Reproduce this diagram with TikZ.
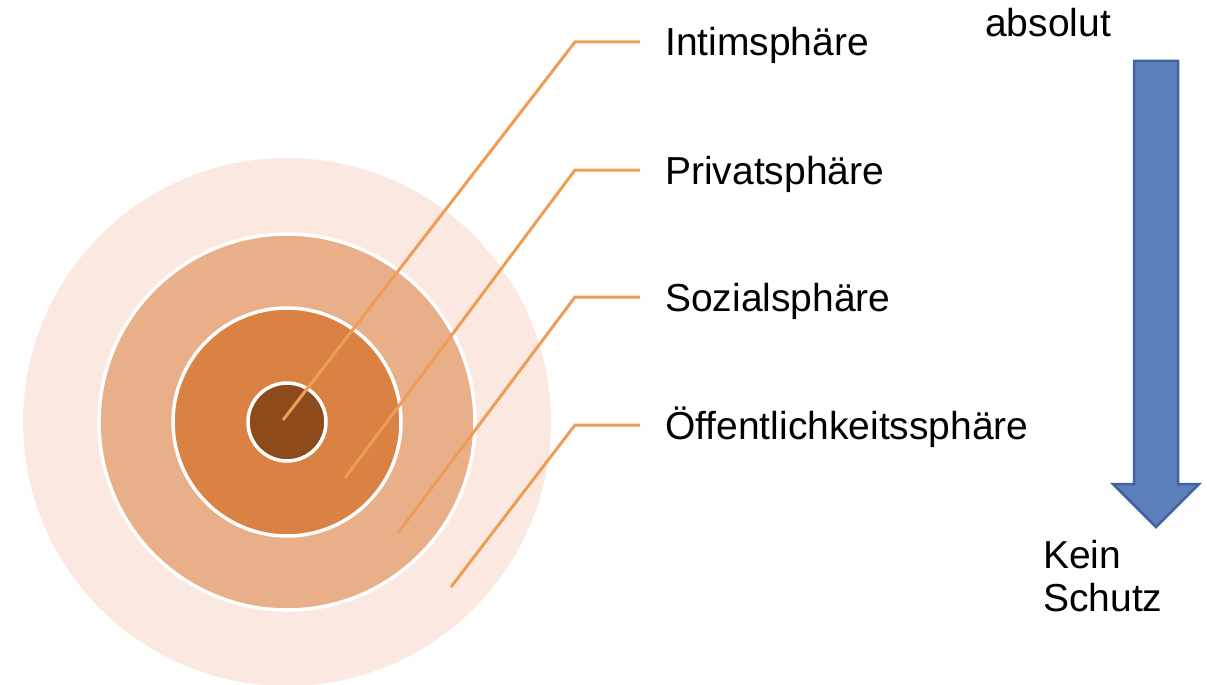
\documentclass[tikz,border=0pt]{standalone}
\usepackage{fontspec}
\setmainfont{Liberation Sans}
\usetikzlibrary{positioning,calc}

\definecolor{sphOeff}{HTML}{FBE9E1}
\definecolor{sphSoz}{HTML}{E8AF89}
\definecolor{sphPriv}{HTML}{DA8244}
\definecolor{sphIntim}{HTML}{8D4B1B}
\definecolor{leadline}{HTML}{EE9D55}
\definecolor{arrowfill}{HTML}{5B80BC}
\definecolor{arrowrim}{HTML}{41649C}

\begin{document}
\begin{tikzpicture}[x=1pt,y=-1pt,
    ring/.style={draw=white,line width=3.5pt},
    lead/.style={draw=leadline,line width=3pt},
    lbl/.style={anchor=west,inner xsep=25pt,inner ysep=0pt,text height=28pt,text depth=0pt,
        font=\fontsize{39}{43}\selectfont}]

    \useasboundingbox (0,0) rectangle (1207,685);

    % spheres
    \fill[sphOeff] (287,422) circle (264);
    \draw[ring,fill=sphSoz] (287,422) circle (188);
    \draw[ring,fill=sphPriv] (287,422) circle (114);
    \draw[ring,fill=sphIntim] (287,422) circle (39);

    \coordinate (intimPt) at (283,420);
    \coordinate (privPt) at (345,478);
    \coordinate (sozPt) at (398,533);
    \coordinate (oeffPt) at (451,587);

    \node[lbl] (intim) at (640,42) {Intimsphäre};
    \node[lbl] (priv) at (640,170) {Privatsphäre};
    \node[lbl] (soz) at (640,297) {Sozialsphäre};
    \node[lbl] (oeff) at (640,425) {Öffentlichkeitssphäre};

    \draw[lead] (intimPt) -- ([xshift=-65pt]intim.west) -- (intim.west);
    \draw[lead] (privPt) -- ([xshift=-65pt]priv.west) -- (priv.west);
    \draw[lead] (sozPt) -- ([xshift=-65pt]soz.west) -- (soz.west);
    \draw[lead] (oeffPt) -- ([xshift=-65pt]oeff.west) -- (oeff.west);

    % protection arrow
    \draw[fill=arrowfill,draw=arrowrim,line width=2.5pt,line join=miter]
        (1134,61) -- (1178,61) -- (1178,484) -- (1199,484) -- (1156,527)
        -- (1113,484) -- (1134,484) -- cycle;

    \node[anchor=base west,inner sep=0pt,font=\fontsize{39}{43}\selectfont] (top) at (985,37) {absolut};
    \node[anchor=north west,align=left,inner sep=0pt,font=\fontsize{39}{43}\selectfont] (bottom) at (1043,540) {Kein\\Schutz};

\end{tikzpicture}
\end{document}
